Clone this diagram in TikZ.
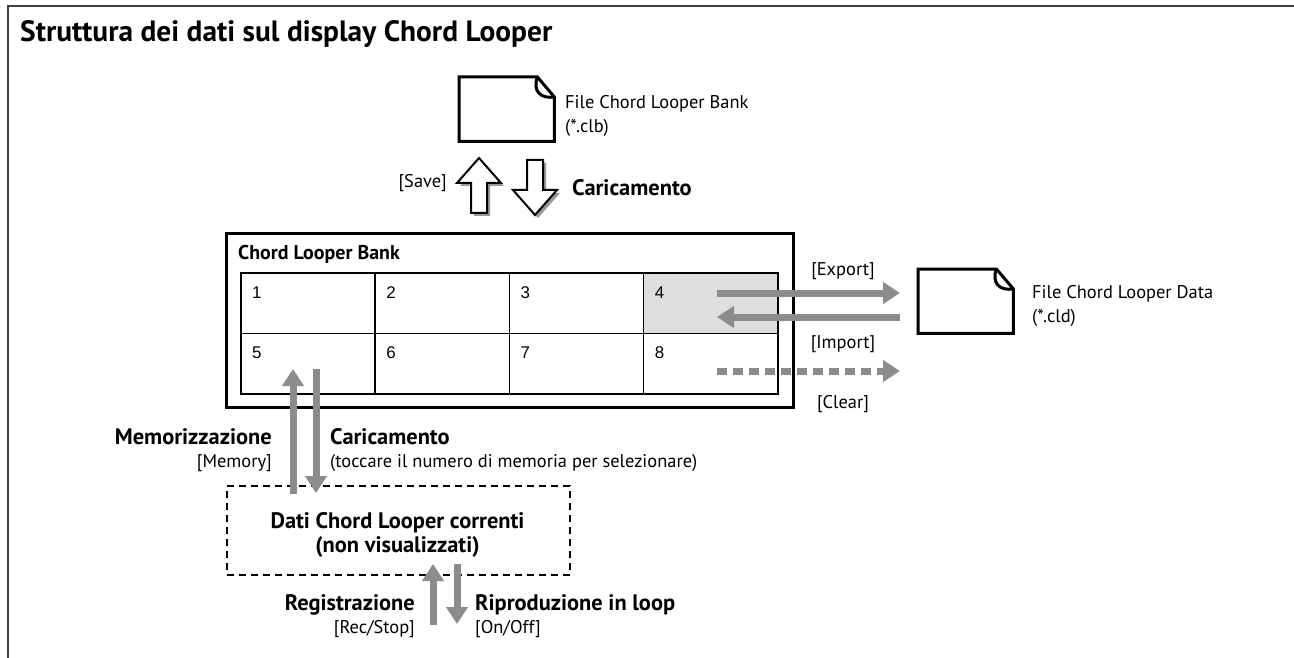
\documentclass[tikz,border=0pt]{standalone}
\usepackage{fontspec}
\setmainfont{PT Sans}
\newfontfamily\cellfont{Liberation Sans}
\usetikzlibrary{arrows.meta}

\tikzset{
  lbl/.style={inner sep=0pt, font=\fontsize{18.5}{22}\selectfont},
  bold/.style={inner sep=0pt, font=\fontsize{22.5}{26}\selectfont\bfseries},
  cell/.style={draw, line width=1.5bp, minimum width=134.25bp, minimum height=60.5bp, anchor=north west, inner sep=0pt},
  num/.style={inner sep=0pt, font=\cellfont\fontsize{17}{20}\selectfont, anchor=base west},
  flow/.style={line width=7bp, draw=black!45, -{Triangle[length=17bp,width=21bp]}},
  fileicon/.style={minimum width=95bp, minimum height=64bp, anchor=north west, inner sep=0pt},
  fileline/.style={line width=3bp, line join=miter},
  bigarrow/.pic={\path[pic actions] (0,0) -- (22,25) -- (8,25) -- (8,55) -- (-8,55) -- (-8,25) -- (-22,25) -- cycle;}
}

\begin{document}
\begin{tikzpicture}[x=1bp, y=-1bp]
  \useasboundingbox[fill=white] (0,0) rectangle (1294,658);
  % Frame and title
  \draw[line width=2bp, black!75] (8,658) -- (8,6) -- (1294,6);
  \node[anchor=base west, inner sep=0pt, font=\fontsize{29.5}{34}\selectfont\bfseries] (title) at (20,42) {Struttura dei dati sul display Chord Looper};

  % Files
  \foreach \f/\x/\y in {clbfile/459/77, cldfile/918/269} {
    \node[fileicon] (\f) at (\x,\y) {};
    \draw[fileline, fill=white] (\f.north west) -- ([xshift=-17bp]\f.north east) -- ([yshift=-20bp]\f.north east) -- (\f.south east) -- (\f.south west) -- cycle;
    \draw[fileline] ([xshift=-17bp]\f.north east) .. controls ([xshift=-22bp,yshift=-14bp]\f.north east) and ([xshift=-14bp,yshift=-22bp]\f.north east) .. ([yshift=-20bp]\f.north east);
  }
  \node[lbl, anchor=base west] (clbname) at (565,109) {File Chord Looper Bank};
  \node[lbl, anchor=base west] (clbext) at (565,133) {(*.clb)};
  \node[lbl, anchor=base west] (cldname) at (1032,298) {File Chord Looper Data};
  \node[lbl, anchor=base west] (cldext) at (1032,322) {(*.cld)};

  % Save / load
  \pic[fill=black!40] at (482,161) {bigarrow};
  \pic[draw, line width=2bp, fill=white] at (479,158) {bigarrow};
  \pic[yscale=-1, fill=black!40] at (538,218) {bigarrow};
  \pic[yscale=-1, draw, line width=2bp, fill=white] at (535,215) {bigarrow};
  \node[lbl, anchor=base east] (save) at (447,188) {[Save]};
  \node[bold, anchor=base west] (load) at (572,195.5) {Caricamento};

  % Bank
  \node[draw, line width=2.5bp, minimum width=567bp, minimum height=174bp, anchor=north west, inner sep=0pt] (bank) at (225,232) {};
  \node[inner sep=0pt, anchor=base west, font=\fontsize{20}{24}\selectfont\bfseries] (banktitle) at (238,259) {Chord Looper Bank};
  \foreach \i/\c in {1/white,2/white,3/white,4/black!13,5/white,6/white,7/white,8/white} {
    \pgfmathsetmacro\col{mod(\i-1,4)}
    \pgfmathsetmacro\row{int((\i-1)/4)}
    \node[cell, fill=\c] (cell\i) at ({240+134.25*\col},{272+60.5*\row}) {};
    \node[num] (num\i) at ([shift={(12,26)}]cell\i.north west) {\i};
  }

  % Export / import / clear
  \coordinate (expA) at (717,293);
  \coordinate (expB) at (900,293);
  \coordinate (impA) at (900,317);
  \coordinate (impB) at (717,317);
  \coordinate (clrA) at (717,371);
  \coordinate (clrB) at (900,371);
  \draw[flow] (expA) -- (expB);
  \draw[flow] (impA) -- (impB);
  \draw[flow, dash pattern=on 10bp off 6bp] (clrA) -- (clrB);
  \node[lbl, anchor=base] (export) at (843,275) {[Export]};
  \node[lbl, anchor=base] (import) at (843,348) {[Import]};
  \node[lbl, anchor=base] (clear) at (843,408) {[Clear]};

  % Current data
  \node[draw, line width=2bp, dash pattern=on 7bp off 5bp, minimum width=343bp, minimum height=89bp, anchor=north west, inner sep=0pt] (cur) at (226,485) {};
  \node[bold, anchor=base] (curname) at (397.5,528) {Dati Chord Looper correnti};
  \node[bold, anchor=base] (curnote) at (397.5,552) {(non visualizzati)};

  \coordinate (memA) at (293,494);
  \coordinate (memB) at (293,369);
  \coordinate (selA) at (316,369);
  \coordinate (selB) at (316,493);
  \draw[flow] (memA) -- (memB);
  \draw[flow] (selA) -- (selB);
  \node[bold, anchor=base east] (mem) at (272,444) {Memorizzazione};
  \node[lbl, anchor=base east] (memkey) at (272,467) {[Memory]};
  \node[bold, anchor=base west] (sel) at (330,444) {Caricamento};
  \node[lbl, anchor=base west] (selkey) at (330,467) {(toccare il numero di memoria per selezionare)};

  % Recording / loop
  \coordinate (recA) at (433,625);
  \coordinate (recB) at (433,564);
  \coordinate (loopA) at (457,564);
  \coordinate (loopB) at (457,624);
  \draw[flow] (recA) -- (recB);
  \draw[flow] (loopA) -- (loopB);
  \node[bold, anchor=base east] (rec) at (415,610) {Registrazione};
  \node[lbl, anchor=base east] (reckey) at (415,633) {[Rec/Stop]};
  \node[bold, anchor=base west] (loop) at (475,610) {Riproduzione in loop};
  \node[lbl, anchor=base west] (loopkey) at (475,633) {[On/Off]};
\end{tikzpicture}
\end{document}
